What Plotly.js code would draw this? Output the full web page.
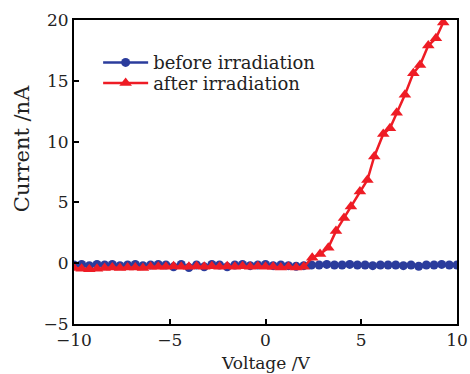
<!DOCTYPE html>
<html>
<head>
<meta charset="utf-8">
<script src="https://cdn.plot.ly/plotly-3.0.1.min.js"></script>
<style>html,body{margin:0;padding:0;background:#fff;}#chart{width:470px;height:374px;}</style>
</head>
<body>
<div id="chart"></div>
<script>
// Voltage (V) and current (nA)
var beforeVoltage = [-10,-9.6,-9.2,-8.8,-8.4,-8.0,-7.6,-7.2,-6.8,-6.4,-6.0,-5.6,-5.2,-4.8,-4.4,-4.0,-3.6,-3.2,-2.8,-2.4,-2.0,-1.6,-1.2,-0.8,-0.4,0,0.4,0.8,1.2,1.6,2.0,2.4,2.8,3.2,3.6,4.0,4.4,4.8,5.2,5.6,6.0,6.4,6.8,7.2,7.6,8.0,8.4,8.8,9.2,9.6,10];
var beforeCurrent = [-0.15,-0.1,-0.2,-0.1,-0.15,-0.1,-0.2,-0.15,-0.1,-0.2,-0.15,-0.1,-0.15,-0.3,-0.1,-0.35,-0.15,-0.3,-0.1,-0.15,-0.3,-0.15,-0.1,-0.2,-0.15,-0.1,-0.2,-0.15,-0.2,-0.25,-0.2,-0.15,-0.15,-0.1,-0.15,-0.15,-0.1,-0.15,-0.15,-0.2,-0.15,-0.15,-0.15,-0.2,-0.15,-0.25,-0.15,-0.15,-0.1,-0.15,-0.15];
var afterVoltage = [-10,-9.6,-9.2,-8.8,-8.4,-8.0,-7.6,-7.2,-6.8,-6.4,-6.0,-5.6,-5.2,-4.8,-4.4,-4.0,-3.6,-3.2,-2.8,-2.4,-2.0,-1.6,-1.2,-0.8,-0.4,0,0.4,0.8,1.2,1.6,2.0,2.44,2.85,3.28,3.68,4.10,4.46,4.93,5.32,5.68,6.15,6.50,6.85,7.28,7.72,8.07,8.50,8.90,9.28];
var afterCurrent = [-0.4,-0.45,-0.5,-0.45,-0.4,-0.35,-0.4,-0.35,-0.35,-0.4,-0.3,-0.3,-0.3,-0.25,-0.3,-0.3,-0.25,-0.3,-0.25,-0.3,-0.25,-0.3,-0.25,-0.3,-0.25,-0.3,-0.3,-0.35,-0.3,-0.35,-0.3,0.45,0.75,1.28,2.64,3.72,4.67,5.89,6.84,8.78,10.62,11.1,12.38,13.86,15.63,16.3,17.9,18.5,19.8];
var seriesNames = ["before irradiation", "after irradiation"];
var xTicks = [-10,-5,0,5,10];
var yTicks = [-5,0,5,10,15,20];
var xTitle = "Voltage /V";
var yTitle = "Current /nA";

var FONT = "DejaVu Serif, Liberation Serif, serif";
function fmt(v){ return v < 0 ? "\u2212" + (-v) : String(v); }
var traces = [
  {x: beforeVoltage, y: beforeCurrent, name: seriesNames[0], type: "scatter", mode: "lines+markers", legend: "legend",
   line: {color: "#2b3c9c", width: 2.5}, marker: {symbol: "circle", size: 9, color: "#2b3c9c"}},
  {x: afterVoltage, y: afterCurrent, name: seriesNames[1], type: "scatter", mode: "lines+markers", legend: "legend2",
   line: {color: "#ee1c25", width: 2.5}, marker: {symbol: "triangle-up", size: 11, color: "#ee1c25"}}
];
var legendFont = {family: FONT, size: 18, color: "#222"};
var axisCommon = {showline: true, linecolor: "#000", linewidth: 2, mirror: true, ticks: "inside", ticklen: 5, tickwidth: 2,
  tickcolor: "#000", showgrid: false, zeroline: false, tickfont: {family: FONT, size: 17, color: "#222"}};
var layout = {
  width: 470, height: 374,
  margin: {l: 74, r: 13, t: 20, b: 50},
  paper_bgcolor: "#fff", plot_bgcolor: "#fff",
  font: {family: FONT, color: "#222"},
  showlegend: true,
  legend: {x: 0.063, y: 0.8595, xanchor: "left", yanchor: "middle", bgcolor: "rgba(0,0,0,0)", itemwidth: 45, font: legendFont},
  legend2: {x: 0.063, y: 0.792, xanchor: "left", yanchor: "middle", bgcolor: "rgba(0,0,0,0)", itemwidth: 45, font: legendFont},
  xaxis: Object.assign({}, axisCommon, {range: [-10, 10], tickvals: xTicks, ticktext: xTicks.map(fmt)}),
  yaxis: Object.assign({}, axisCommon, {range: [-5, 20], tickvals: yTicks, ticktext: yTicks.map(fmt)}),
  annotations: [
    {text: yTitle, xref: "paper", yref: "paper", x: -0.135, y: 0.576, xanchor: "center", yanchor: "middle",
     textangle: -90, showarrow: false, font: {family: FONT, size: 21, color: "#222"}},
    {text: xTitle, xref: "paper", yref: "paper", x: 0.5, y: -0.128, xanchor: "center", yanchor: "middle",
     showarrow: false, font: {family: FONT, size: 17, color: "#222"}}
  ]
};
Plotly.newPlot("chart", traces, layout, {displayModeBar: false, staticPlot: true});
</script>
</body>
</html>
